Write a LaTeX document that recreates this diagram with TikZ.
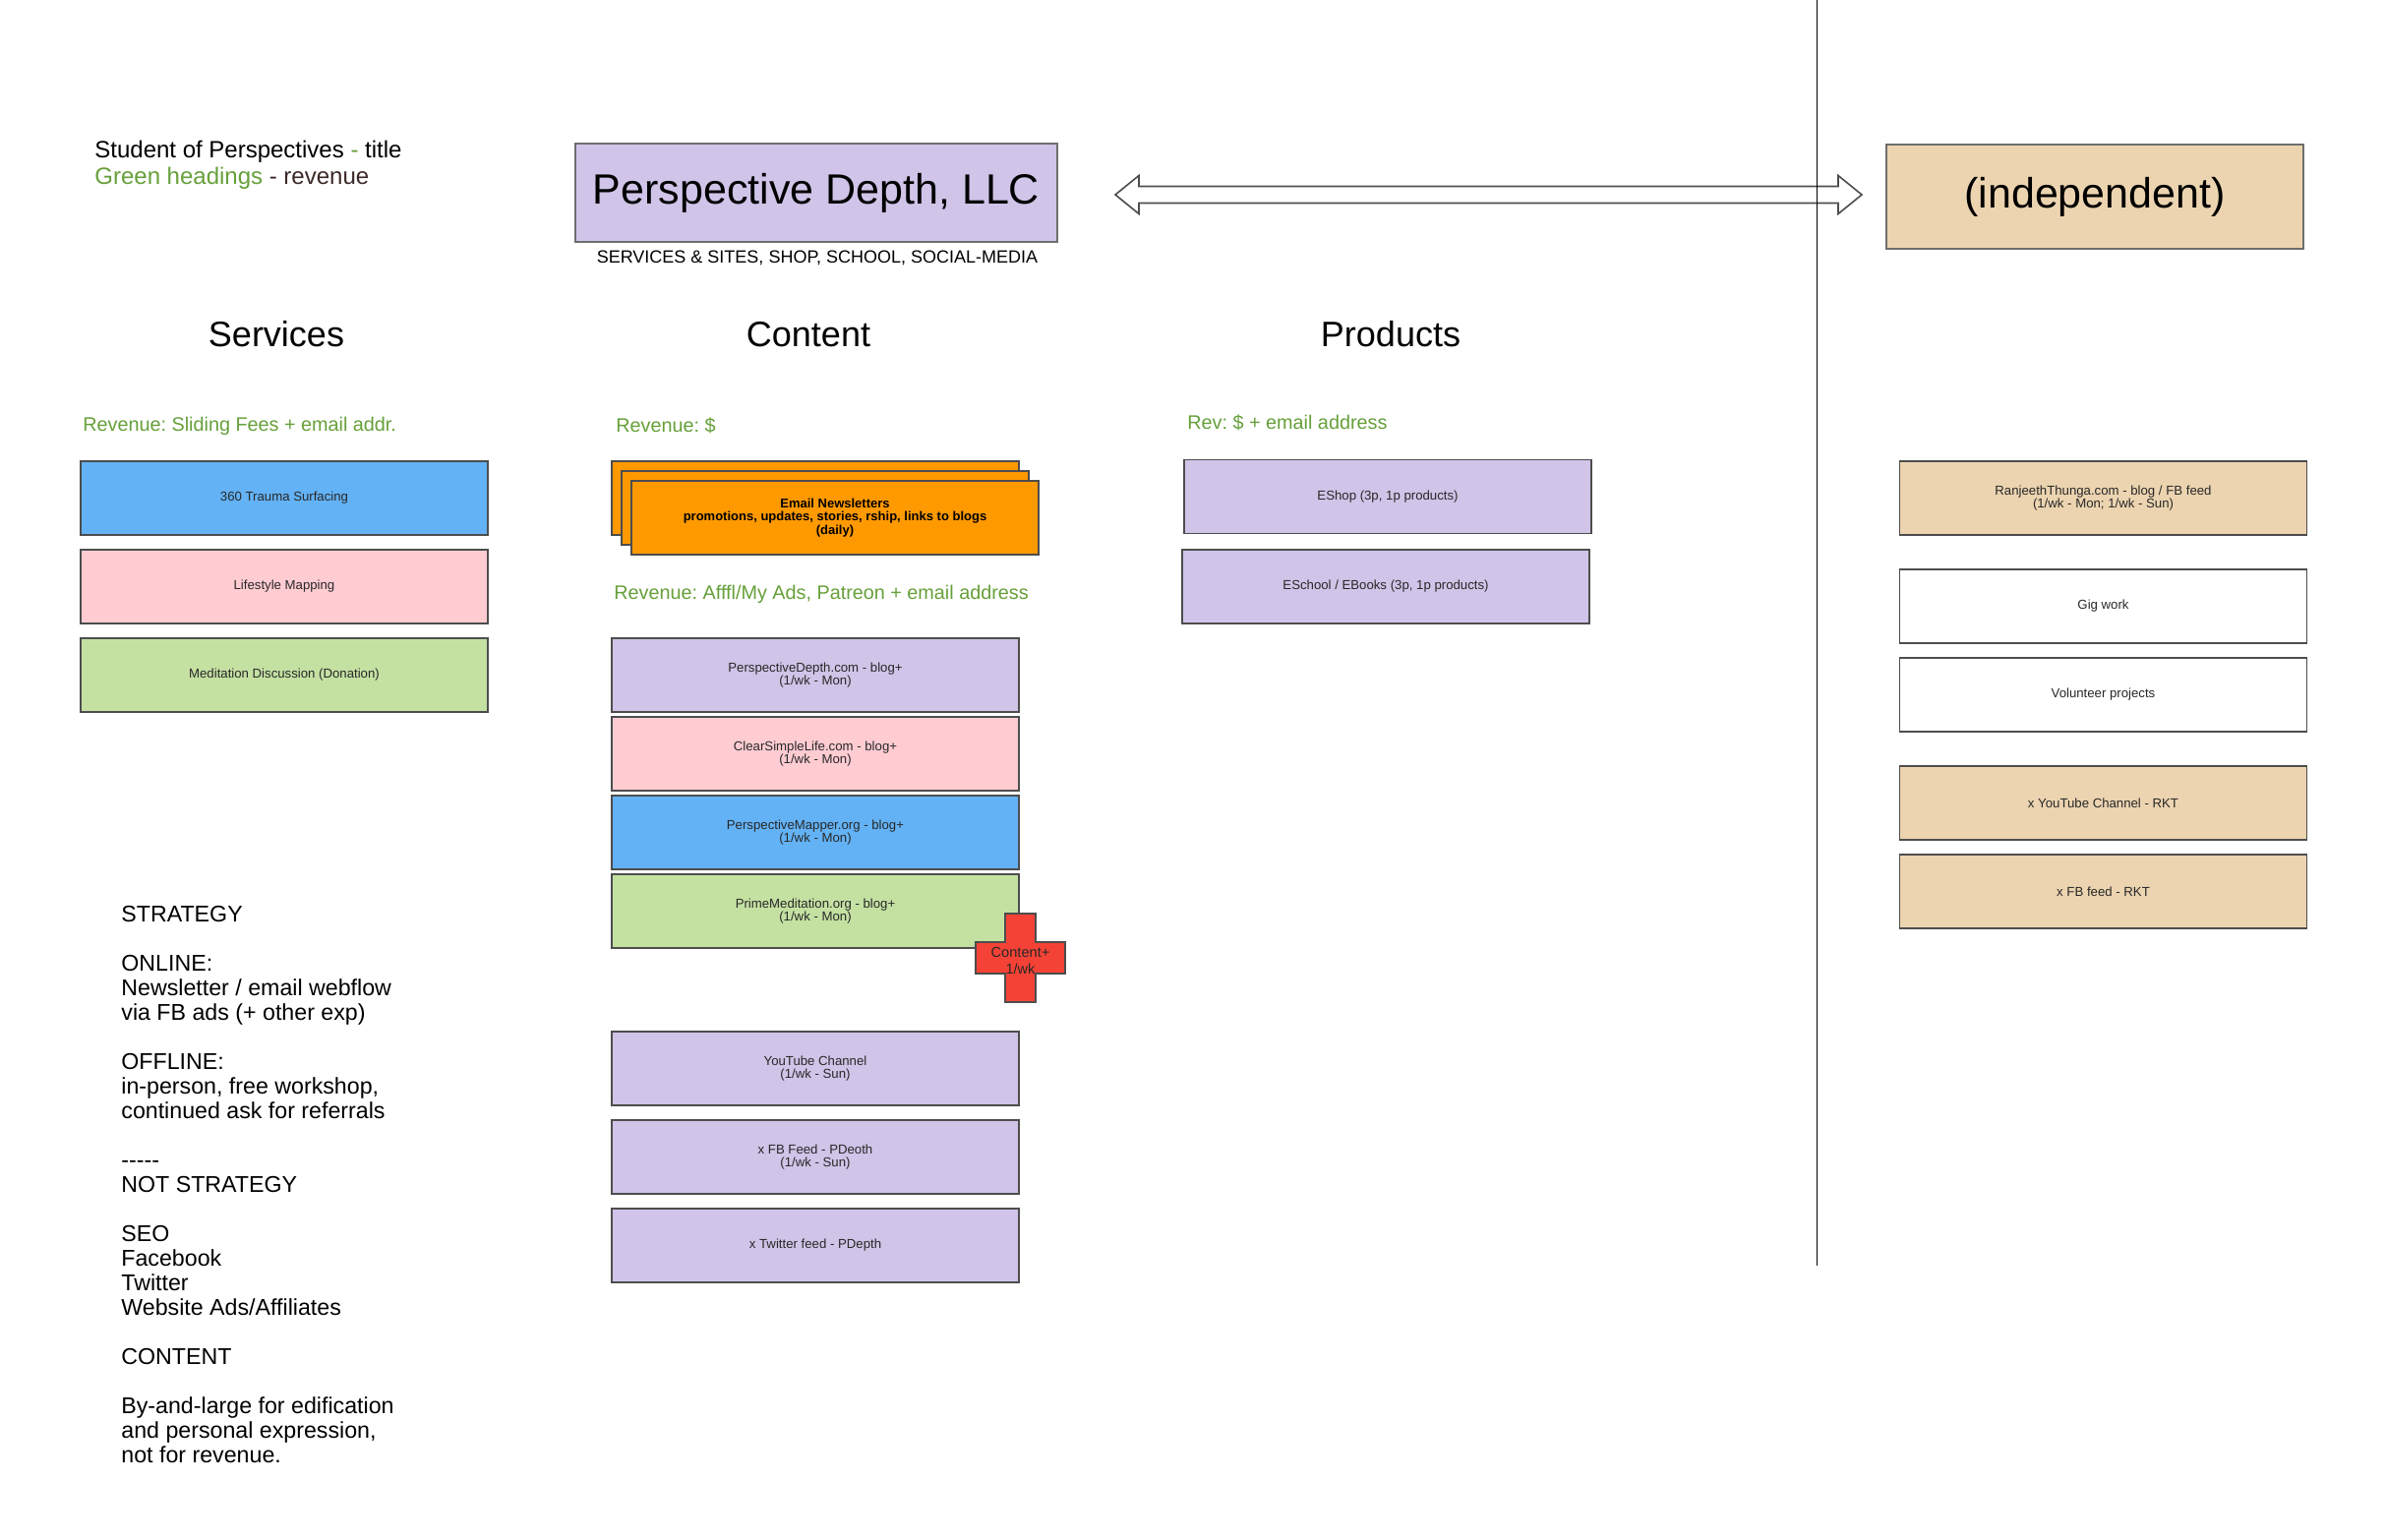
\documentclass[tikz,border=0pt]{standalone}
\usepackage{fontspec}
\setmainfont{Liberation Sans}
\usetikzlibrary{calc}
\definecolor{skyblue}{RGB}{99,178,245}
\definecolor{rosepink}{RGB}{255,204,210}
\definecolor{sage}{RGB}{196,225,162}
\definecolor{lilac}{RGB}{208,196,232}
\definecolor{amber}{RGB}{255,153,0}
\definecolor{sand}{RGB}{236,212,176}
\definecolor{crossred}{RGB}{244,67,54}
\definecolor{revgreen}{RGB}{102,160,58}
\definecolor{boxline}{RGB}{77,77,77}
\definecolor{frame}{RGB}{110,110,110}
\definecolor{textgray}{RGB}{40,40,40}
\definecolor{darkbrown}{RGB}{60,40,40}
\frenchspacing

\begin{document}
\begin{tikzpicture}[x=0.5pt,y=-0.5pt,
	box/.style={draw=boxline,line width=0.9pt,minimum width=207pt,minimum height=37.5pt,inner sep=0pt,align=center,text=textgray,font=\fontsize{6.6}{6.65}\selectfont},
	bigbox/.style={draw=frame,line width=0.6pt,inner sep=0pt,font=\fontsize{21.5}{25.8}\selectfont},
	heading/.style={inner sep=0pt,font=\fontsize{18}{21.6}\selectfont},
	revtext/.style={inner sep=0pt,anchor=west,text=revgreen,font=\fontsize{9.9}{11.9}\selectfont}]
	\fill[white] (0,0) rectangle (2426,1566);
	\useasboundingbox (0,0) rectangle (2426,1566);
	% top row
	\node[inner sep=0pt,anchor=west,align=left,font=\fontsize{12}{13.5}\selectfont] (key) at (96,167.5)
		{Student of Perspectives \textcolor{revgreen}{-} title\\\textcolor{revgreen}{Green headings} \textcolor{darkbrown}{- revenue}};
	\node[bigbox,fill=lilac,minimum width=245pt,minimum height=50pt] (pd) at (830,196) {Perspective Depth, LLC};
	\node[inner sep=0pt,font=\fontsize{9}{10.5}\selectfont] (pdsub) at (831,262) {SERVICES \& SITES, SHOP, SCHOOL, SOCIAL-MEDIA};
	\node[bigbox,fill=sand,minimum width=212pt,minimum height=53pt] (indep) at (2130,200) {(independent)};
	\coordinate (arrL) at (1134,198);
	\coordinate (arrR) at (1893,198);
	\draw[draw=boxline,line width=0.8pt,fill=white] (arrL) -- ++(24,-19.5) -- ++(0,11) -- ($(arrR)+(-24,-8.5)$) -- ++(0,-11) -- (arrR)
		-- ++(-24,19.5) -- ++(0,-11) -- ($(arrL)+(24,8.5)$) -- ++(0,11) -- cycle;
	\coordinate (divtop) at (1847,0);
	\coordinate (divbot) at (1847,1287);
	\draw[line width=0.4pt] (divtop) -- (divbot);
	% column headings
	\node[heading] (services) at (281,340) {Services};
	\node[heading] (content) at (822,340) {Content};
	\node[heading] (products) at (1414,340) {Products};
	\node[revtext] (revsvc) at (84,433) {Revenue: Sliding Fees + email addr.};
	\node[revtext] (revnews) at (626,433) {Revenue: \$};
	\node[revtext] (revprod) at (1207,430) {Rev: \$ + email address};
	\node[revtext] (revblog) at (624,604) {Revenue: Afffl/My Ads, Patreon + email address};
	% services
	\node[box,fill=skyblue] (trauma) at (289,506.5) {360 Trauma Surfacing};
	\node[box,fill=rosepink] (lifestyle) at (289,596.5) {Lifestyle Mapping};
	\node[box,fill=sage] (meditation) at (289,686.5) {Meditation Discussion (Donation)};
	% content
	\foreach \i/\x/\y in {1/829/506.5,2/839/516.5}{
		\node[box,fill=amber] (news\i) at (\x,\y) {};}
	\node[box,fill=amber,font=\bfseries\fontsize{6.5}{6.8}\selectfont,text=black] (news3) at (849,526.5)
		{Email Newsletters\\promotions, updates, stories, rship, links to blogs\\(daily)};
	\foreach \nm/\y/\col/\txt in {pdepth/686.5/lilac/{PerspectiveDepth.com - blog+\\(1/wk - Mon)},
		clearlife/766.5/rosepink/{ClearSimpleLife.com - blog+\\(1/wk - Mon)},
		mapper/846.5/skyblue/{PerspectiveMapper.org - blog+\\(1/wk - Mon)},
		primemed/926.5/sage/{PrimeMeditation.org - blog+\\(1/wk - Mon)},
		youtube/1086.5/lilac/{YouTube Channel\\(1/wk - Sun)},
		fbfeed/1176.5/lilac/{x FB Feed - PDeoth\\(1/wk - Sun)},
		twitter/1266.5/lilac/{x Twitter feed - PDepth}}{
		\node[box,fill=\col] (\nm) at (829,\y) {\txt};}
	\coordinate (plus) at (1037.5,974);
	\draw[draw=boxline,line width=0.9pt,fill=crossred] ($(plus)+(-15.5,-45)$) -- ++(31,0) -- ++(0,29) -- ++(30,0) -- ++(0,32)
		-- ++(-30,0) -- ++(0,29) -- ++(-31,0) -- ++(0,-29) -- ++(-30,0) -- ++(0,-32) -- ++(30,0) -- cycle;
	\node[inner sep=0pt,align=center,text=textgray,font=\fontsize{7.3}{8.4}\selectfont] (plustext) at ($(plus)+(0,3)$) {Content+\\1/wk};
	% products
	\node[box,fill=lilac] (eshop) at (1411,505) {EShop (3p, 1p products)};
	\node[box,fill=lilac] (eschool) at (1409,596.5) {ESchool / EBooks (3p, 1p products)};
	% independent
	\foreach \nm/\y/\col/\txt in {ranjeeth/506.5/sand/{RanjeethThunga.com - blog / FB feed\\(1/wk - Mon; 1/wk - Sun)},
		gig/616.5/white/{Gig work},
		volunteer/706.5/white/{Volunteer projects},
		ytrkt/816.5/sand/{x YouTube Channel - RKT},
		fbrkt/906.5/sand/{x FB feed - RKT}}{
		\node[box,fill=\col] (\nm) at (2138.5,\y) {\txt};}
	% strategy notes
	\node[inner sep=0pt,anchor=west,align=left,font=\fontsize{11.6}{12.5}\selectfont] (strategy) at (123,1205)
		{STRATEGY\\[12.5pt]
		ONLINE:\\Newsletter / email webflow\\via FB ads (+ other exp)\\[12.5pt]
		OFFLINE:\\in-person, free workshop,\\continued ask for referrals\\[12.5pt]
		-{}-{}-{}-{}-\\NOT STRATEGY\\[12.5pt]
		SEO\\Facebook\\Twitter\\Website Ads/Affiliates\\[12.5pt]
		CONTENT\\[12.5pt]
		By-and-large for edification\\and personal expression,\\not for revenue.};
\end{tikzpicture}
\end{document}
